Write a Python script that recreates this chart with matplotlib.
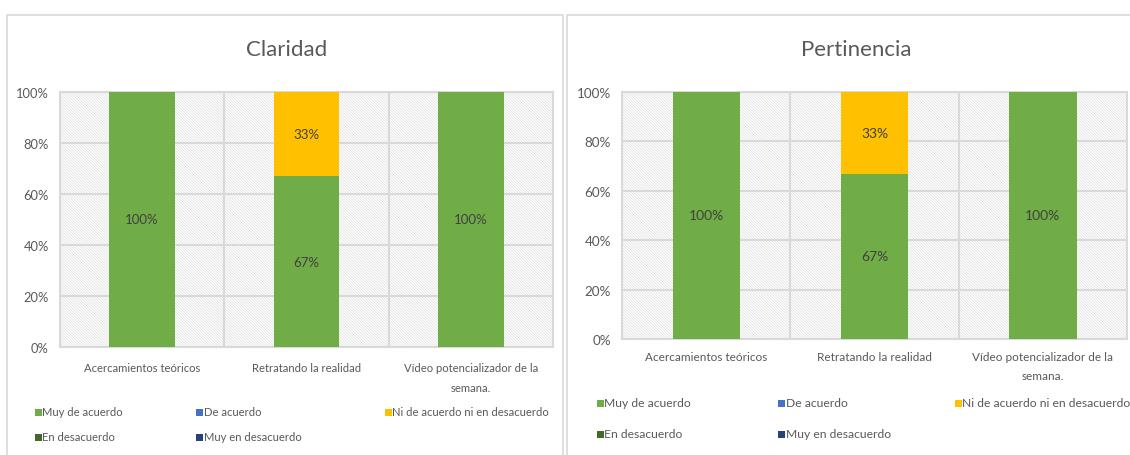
import matplotlib
matplotlib.use("Agg")
import matplotlib.pyplot as plt
from matplotlib.patches import Rectangle
from matplotlib.transforms import ScaledTranslation
import numpy as np

plt.rcParams['font.family'] = ['Lato', 'DejaVu Sans']
plt.rcParams['hatch.linewidth'] = 0.5

categories = ["Acercamientos teóricos", "Retratando la realidad", "Vídeo potencializador de la\nsemana."]
series_names = ["Muy de acuerdo", "De acuerdo", "Ni de acuerdo ni en desacuerdo", "En desacuerdo", "Muy en desacuerdo"]
series_colors = ["#70AD47", "#4472C4", "#FFC000", "#43682B", "#264478"]

claridad = {
    "Muy de acuerdo": [100, 67, 100],
    "De acuerdo": [0, 0, 0],
    "Ni de acuerdo ni en desacuerdo": [0, 33, 0],
    "En desacuerdo": [0, 0, 0],
    "Muy en desacuerdo": [0, 0, 0],
}
pertinencia = {
    "Muy de acuerdo": [100, 67, 100],
    "De acuerdo": [0, 0, 0],
    "Ni de acuerdo ni en desacuerdo": [0, 33, 0],
    "En desacuerdo": [0, 0, 0],
    "Muy en desacuerdo": [0, 0, 0],
}
titles = ["Claridad", "Pertinencia"]
yticks = [0, 20, 40, 60, 80, 100]
ytick_labels = ["0%", "20%", "40%", "60%", "80%", "100%"]

W, H = 1130, 456
fig = plt.figure(figsize=(W / 100, H / 100), dpi=100)
fig.patch.set_facecolor("white")

GRID = "#d9d9d9"
TXT = "#595959"

def fx(x):
    return x / W

def fy(y):
    return 1 - y / H

# panel borders
for (x0, x1) in [(7, 563), (567, 1135)]:
    fig.patches.append(Rectangle((fx(x0), fy(470)), fx(x1 - x0), (470 - 16) / H,
                                 transform=fig.transFigure, fill=False,
                                 edgecolor=GRID, lw=1.2))

panels = [
    dict(data=claridad, ax=(60, 93, 553, 348), title_x=287, title_y=50, cat_off=15, s=1.0,
         cat_fs=8.1, leg_fs=8.1, lsp=1.95,
         leg_x=[35, 196, 385], leg_y=[413, 438]),
    dict(data=pertinencia, ax=(622, 93, 1127, 340), title_x=856, title_y=50, cat_off=12, s=1.05,
         cat_fs=8.45, leg_fs=8.7, lsp=1.9,
         leg_x=[597, 778, 955], leg_y=[404, 435]),
]

for p, title in zip(panels, titles):
    s = p["s"]
    x0, y0, x1, y1 = p["ax"]
    ax = fig.add_axes([fx(x0), fy(y1), fx(x1 - x0), (y1 - y0) / H])
    ax.set_facecolor("white")
    ax.add_patch(Rectangle((0, 0), 1, 1, transform=ax.transAxes, facecolor="white",
                           edgecolor="#dedede", hatch="\\" * 12, lw=0, zorder=0))
    xs = np.arange(len(categories))
    bottom = np.zeros(len(categories))
    for name, color in zip(series_names, series_colors):
        vals = np.array(p["data"][name], dtype=float)
        bars = ax.bar(xs, vals, 0.4, bottom=bottom, color=color, zorder=3, label=name)
        for b, v, bt in zip(bars, vals, bottom):
            if v > 0:
                ax.text(b.get_x() + b.get_width() / 2, bt + v / 2, f"{v:.0f}%",
                        ha="center", va="center", fontsize=9.5 * s, color="#404040", zorder=4)
        bottom += vals
    ax.set_xlim(-0.5, 2.5)
    ax.set_ylim(0, 100)
    ax.set_yticks(yticks)
    ax.set_yticklabels(ytick_labels)
    ax.set_xticks([0.5, 1.5], minor=True)
    ax.set_xticks(xs)
    ax.set_xticklabels([])
    ax.grid(axis="y", color=GRID, lw=1.5, zorder=1)
    ax.grid(axis="x", which="minor", color=GRID, lw=1.5, zorder=1)
    ax.grid(axis="x", which="major", visible=False)
    ax.tick_params(axis="both", which="both", length=0, labelsize=9.3 * s, labelcolor=TXT, pad=8)
    for sp in ax.spines.values():
        sp.set_color(GRID)
        sp.set_linewidth(1.5)
    off = ScaledTranslation(0, -p["cat_off"] / 100, fig.dpi_scale_trans)
    for i, c in enumerate(categories):
        ax.text(i, 0, c, transform=ax.get_xaxis_transform() + off, ha="center", va="top",
                fontsize=p["cat_fs"], color=TXT, linespacing=p["lsp"])
    # title
    fig.text(fx(p["title_x"]), fy(p["title_y"]), title, ha="center", va="center",
             fontsize=16, color=TXT)
    # legend
    order = [(0, 0), (0, 1), (0, 2), (1, 0), (1, 1)]
    for (r, c), name, color in zip(order, series_names, series_colors):
        lx = p["leg_x"][c]
        ly = p["leg_y"][r]
        fig.patches.append(Rectangle((fx(lx), fy(ly + 3.5)), 7 / W, 7 / H,
                                     transform=fig.transFigure, facecolor=color, lw=0))
        fig.text(fx(lx + 7.5), fy(ly), name, ha="left", va="center", fontsize=p["leg_fs"], color=TXT)

fig.savefig("out.png", dpi=100, facecolor="white")
